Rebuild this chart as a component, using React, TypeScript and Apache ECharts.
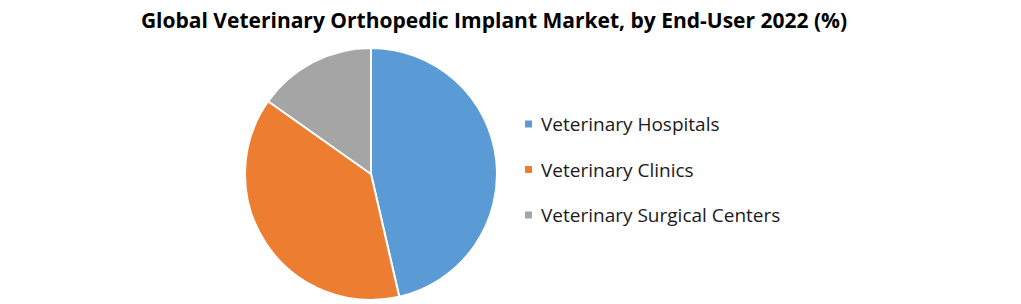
import React, { useEffect, useRef } from "react";
import * as echarts from "echarts";

const titleText = "Global Veterinary Orthopedic Implant Market, by End-User 2022 (%)";
const categories = ["Veterinary Hospitals", "Veterinary Clinics", "Veterinary Surgical Centers"];
const values = [46.4, 38.4, 15.2];
const colors = ["#5B9BD5", "#ED7D31", "#A5A5A5"];

export default function App() {
  const ref = useRef<HTMLDivElement>(null);
  useEffect(() => {
    document.body.style.margin = "0";
    const chart = echarts.init(ref.current!, null, { renderer: "svg" });
    chart.setOption({
      animation: false,
      backgroundColor: "#ffffff",
      title: {
        text: titleText,
        left: 489,
        textAlign: "center",
        top: 4,
        textStyle: {
          fontFamily: "Open Sans",
          fontWeight: "bold",
          fontSize: 21,
          color: "#000000",
        },
      },
      legend: {
        orient: "vertical",
        left: 523,
        top: 114,
        padding: 0,
        icon: "rect",
        itemWidth: 9,
        itemHeight: 9,
        itemGap: 25.5,
        data: categories,
        textStyle: {
          fontFamily: "Open Sans",
          fontSize: 19,
          color: "#1a1a1a",
          lineHeight: 20,
          padding: [0, 0, 0, 3],
        },
      },
      series: [
        {
          type: "pie",
          center: [371, 174],
          radius: [0, 126],
          startAngle: 90,
          clockwise: true,
          label: { show: false },
          labelLine: { show: false },
          itemStyle: { borderColor: "#ffffff", borderWidth: 2 },
          data: categories.map((c, i) => ({
            name: c,
            value: values[i],
            itemStyle: { color: colors[i] },
          })),
        },
      ],
    });
    return () => chart.dispose();
  }, []);
  return <div ref={ref} style={{ width: 1021, height: 304 }} />;
}
